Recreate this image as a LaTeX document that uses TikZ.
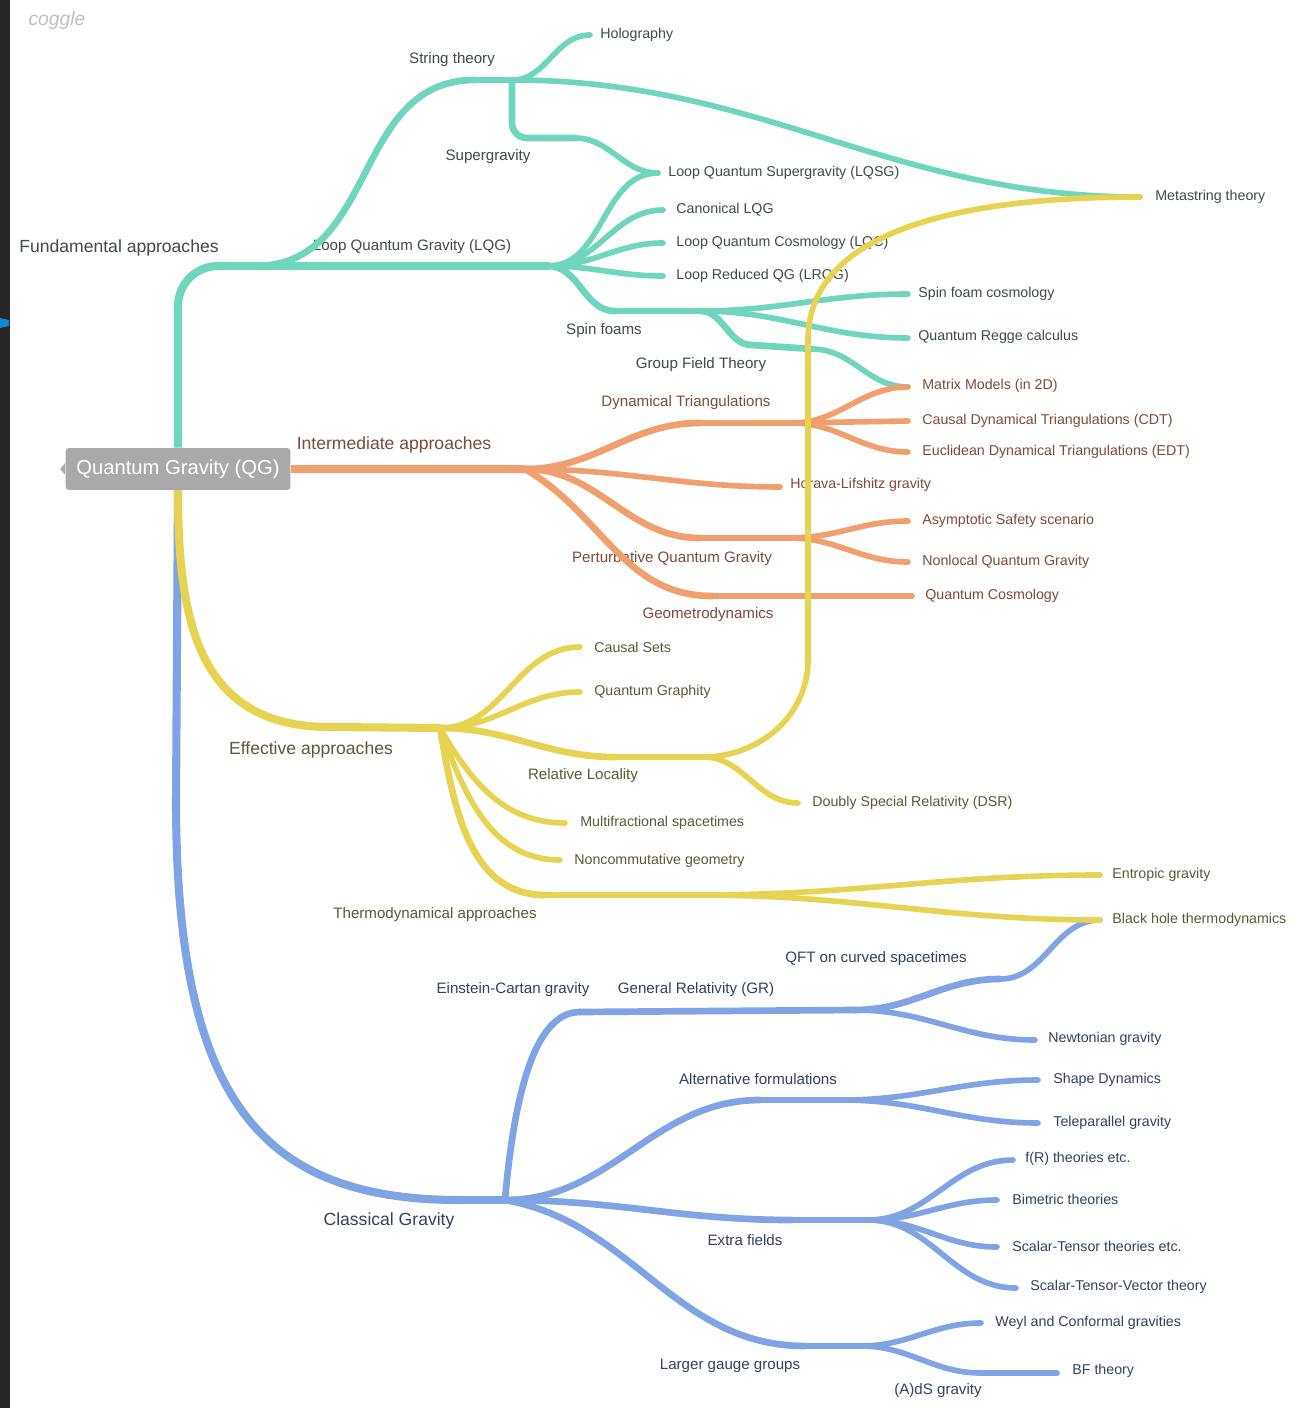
\documentclass[tikz,border=0pt]{standalone}
\usepackage{fontspec}
\setmainfont{Liberation Sans}
\usetikzlibrary{positioning}

\definecolor{fundcol}{HTML}{6FD5BE}
\definecolor{intercol}{HTML}{F0A06E}
\definecolor{effcol}{HTML}{E6D352}
\definecolor{classcol}{HTML}{7FA3E3}
\definecolor{fundtxt}{HTML}{3E4B48}
\definecolor{intertxt}{HTML}{7E4A3C}
\definecolor{efftxt}{HTML}{5C5838}
\definecolor{classtxt}{HTML}{33405E}
\definecolor{rootcol}{HTML}{A9A9A9}

\tikzset{
  leaflbl/.style={anchor=west,inner sep=0pt,font=\fontsize{8.1}{9}\selectfont},
  sublbl/.style={inner sep=0pt,font=\fontsize{8.6}{10}\selectfont},
  toplbl/.style={inner sep=0pt,font=\fontsize{10}{12}\selectfont},
  trunk/.style={line width=4.6pt},
}

\begin{document}
\begin{tikzpicture}[x=0.02cm,y=-0.02cm]

    \useasboundingbox (0,0) rectangle (1289,1408);
    \fill[white] (0,0) rectangle (1289,1408);
    \fill[black!85] (0,0) rectangle (10,1408); % screen edge
    \fill[cyan!70!blue] (0,318) -- (9,320) -- (9,326) -- (0,328) -- cycle;
    \node[text=black!25, font=\itshape\fontsize{11}{12}\selectfont] (logo) at (57,21) {coggle};

    % Root %
    \node[fill=rootcol, rounded corners=2pt, minimum width=4.5cm, minimum height=0.84cm,
          text=white, font=\fontsize{11.5}{13}\selectfont] (qg) at (178,469) {Quantum Gravity (QG)};
    \fill[rootcol] ([yshift=0.12cm]qg.west) -- ++(-0.1cm,-0.12cm) -- ++(0.1cm,-0.12cm) -- cycle;

    % Fundamental %
    \coordinate (fa) at (225,266);
    \coordinate (lqg) at (548,266);
    \coordinate (st-s) at (255,266);
    \coordinate (st-a) at (475,80);
    \coordinate (st) at (512,80);
    \coordinate (holo) at (590,35);
    \coordinate (sg) at (575,138);
    \coordinate (lqsg) at (658,173);
    \coordinate (can) at (663,210);
    \coordinate (lqc) at (663,243);
    \coordinate (lrqg) at (663,276);
    \coordinate (sf-i) at (615,311);
    \coordinate (sf) at (700,311);
    \coordinate (sfc) at (908,294);
    \coordinate (qrc) at (908,338);
    \coordinate (gft-i) at (752,345);
    \coordinate (gft) at (812,349);
    \coordinate (mm) at (908,387);
    \coordinate (ms) at (1140,197);

    % Intermediate %
    \coordinate (ia) at (525,469);
    \coordinate (dt-i) at (700,423);
    \coordinate (dt) at (792,423);
    \coordinate (cdt) at (908,421);
    \coordinate (edt) at (908,452);
    \coordinate (hl) at (780,487);
    \coordinate (pqg-i) at (700,538);
    \coordinate (pqg) at (790,538);
    \coordinate (as) at (908,521);
    \coordinate (nqg) at (908,562);
    \coordinate (gd-i) at (712,596);
    \coordinate (gd) at (785,596);
    \coordinate (qc) at (912,596);

    % Effective %
    \coordinate (ea-i) at (330,727);
    \coordinate (ea) at (440,728);
    \coordinate (cs) at (580,647);
    \coordinate (qgr) at (580,692);
    \coordinate (rl-i) at (615,757);
    \coordinate (rl) at (703,757);
    \coordinate (ms-b) at (808,660);
    \coordinate (ms-t) at (808,340);
    \coordinate (dsr) at (798,803);
    \coordinate (mfs) at (565,823);
    \coordinate (ncg) at (560,860);
    \coordinate (ta-i) at (545,895);
    \coordinate (ta) at (700,895);
    \coordinate (eg) at (1100,875);
    \coordinate (bht) at (1100,920);

    % Classical %
    \coordinate (cg-v) at (176,800);
    \coordinate (cg-i) at (460,1200);
    \coordinate (cg) at (505,1200);
    \coordinate (ecg-i) at (580,1012);
    \coordinate (gr) at (855,1010);
    \coordinate (qft) at (1000,979);
    \coordinate (ng) at (1035,1040);
    \coordinate (af-i) at (760,1100);
    \coordinate (af) at (843,1100);
    \coordinate (sd) at (1038,1080);
    \coordinate (tg) at (1038,1123);
    \coordinate (ef-i) at (792,1220);
    \coordinate (ef) at (868,1220);
    \coordinate (fr) at (1013,1160);
    \coordinate (bm) at (997,1200);
    \coordinate (stt) at (997,1247);
    \coordinate (stv) at (1016,1288);
    \coordinate (lgg-i) at (805,1346);
    \coordinate (lgg) at (861,1346);
    \coordinate (wcg) at (981,1323);
    \coordinate (ads) at (981,1373);
    \coordinate (bf) at (1057,1373);

    \begin{scope}[every node/.style={text=classtxt}, every edge/.style={draw=classcol,line width=3.8pt,line cap=round}]
        \node[toplbl] (cg-l) at (389,1221) {Classical Gravity};
        \node[sublbl] (ecg-l) at (513,990) {Einstein-Cartan gravity};
        \node[sublbl] (gr-l) at (696,990) {General Relativity (GR)};
        \node[sublbl] (qft-l) at (876,959) {QFT on curved spacetimes};
        \node[leaflbl] (ng-l) at (1048,1039) {Newtonian gravity};
        \node[sublbl] (af-l) at (758,1079) {Alternative formulations};
        \node[leaflbl] (sd-l) at (1053,1080) {Shape Dynamics};
        \node[leaflbl] (tg-l) at (1053,1123) {Teleparallel gravity};
        \node[sublbl] (ef-l) at (745,1240) {Extra fields};
        \node[leaflbl] (fr-l) at (1025,1159) {f(R) theories etc.};
        \node[leaflbl] (bm-l) at (1012,1199) {Bimetric theories};
        \node[leaflbl] (stt-l) at (1012,1246) {Scalar-Tensor theories etc.};
        \node[leaflbl] (stv-l) at (1030,1287) {Scalar-Tensor-Vector theory};
        \node[sublbl] (lgg-l) at (730,1366) {Larger gauge groups};
        \node[leaflbl] (wcg-l) at (995,1323) {Weyl and Conformal gravities};
        \node[sublbl] (ads-l) at (938,1391) {(A)dS gravity};
        \node[leaflbl] (bf-l) at (1072,1371) {BF theory};

        \path (qg.south) edge[trunk,line cap=butt] (cg-v);
        \path (cg-v) edge[trunk,out=270,in=180,out looseness=1.55,in looseness=1.05] (cg-i);
        \path (cg-i) edge[trunk] (cg);
        \path (cg) edge[out=85,in=180,out looseness=1.6,in looseness=0.5] (ecg-i);
        \path (ecg-i) edge (gr);
        \path (gr) edge[out=0,in=180] (qft);
        \path (qft) edge[out=0,in=180,line width=3.2pt] (bht);
        \path (gr) edge[out=0,in=180,line width=3.2pt] (ng);
        \path (cg) edge[out=0,in=180] (af-i);
        \path (af-i) edge (af);
        \path (af) edge[out=0,in=180,line width=3.2pt] (sd);
        \path (af) edge[out=0,in=180,line width=3.2pt] (tg);
        \path (cg) edge[out=0,in=180] (ef-i);
        \path (ef-i) edge (ef);
        \path (ef) edge[out=0,in=180,line width=3.2pt] (fr);
        \path (ef) edge[out=0,in=180,line width=3.2pt] (bm);
        \path (ef) edge[out=0,in=180,line width=3.2pt] (stt);
        \path (ef) edge[out=0,in=180,line width=3.2pt] (stv);
        \path (cg) edge[out=-10,in=180] (lgg-i);
        \path (lgg-i) edge (lgg);
        \path (lgg) edge[out=0,in=180,line width=3.2pt] (wcg);
        \path (lgg) edge[out=0,in=180,line width=3.2pt] (ads);
        \path (ads) edge[line width=3.2pt] (bf);
    \end{scope}

    \begin{scope}[every node/.style={text=fundtxt}, every edge/.style={draw=fundcol,line width=3.8pt,line cap=round}]
        \node[toplbl] (fa-l) at (119,248) {Fundamental approaches};
        \node[sublbl] (lqg-l) at (412,247) {Loop Quantum Gravity (LQG)};
        \node[sublbl] (st-l) at (452,60) {String theory};
        \node[leaflbl] (holo-l) at (600,35) {Holography};
        \node[sublbl] (sg-l) at (488,157) {Supergravity};
        \node[leaflbl] (lqsg-l) at (668,173) {Loop Quantum Supergravity (LQSG)};
        \node[leaflbl] (can-l) at (676,210) {Canonical LQG};
        \node[leaflbl] (lqc-l) at (676,243) {Loop Quantum Cosmology (LQC)};
        \node[leaflbl] (lrqg-l) at (676,276) {Loop Reduced QG (LRQG)};
        \node[sublbl] (sf-l) at (604,331) {Spin foams};
        \node[leaflbl] (sfc-l) at (918,294) {Spin foam cosmology};
        \node[leaflbl] (qrc-l) at (918,337) {Quantum Regge calculus};
        \node[sublbl] (gft-l) at (701,365) {Group Field Theory};
        \node[leaflbl] (ms-l) at (1155,197) {Metastring theory};

        \draw[draw=fundcol, trunk, line cap=butt, rounded corners=0.8cm] (qg.north) |- (fa);
        \path (fa) edge[trunk] (lqg);
        \path (st-s) edge[out=0,in=180,looseness=1.1] (st-a);
        \path (st-a) edge (st);
        \path (st) edge[out=0,in=180,line width=3.2pt] (holo);
        \draw[draw=fundcol, line width=3.8pt, line cap=round, rounded corners=0.3cm] (st) |- (sg);
        \path (sg) edge[out=0,in=180,line width=3.2pt] (lqsg);
        \path (lqg) edge[out=0,in=180,line width=3.2pt] (lqsg);
        \path (lqg) edge[out=0,in=180,line width=3.2pt] (can);
        \path (lqg) edge[out=0,in=180,line width=3.2pt] (lqc);
        \path (lqg) edge[out=0,in=180,line width=3.2pt] (lrqg);
        \path (lqg) edge[out=0,in=180] (sf-i);
        \path (sf-i) edge (sf);
        \path (sf) edge[out=0,in=180,line width=3.2pt] (sfc);
        \path (sf) edge[out=0,in=180,line width=3.2pt] (qrc);
        \path (sf) edge[out=0,in=180] (gft-i);
        \path (gft-i) edge (gft);
        \path (gft) edge[out=0,in=180,line width=3.2pt] (mm);
        \path (st) edge[out=0,in=180,line width=3.2pt] (ms);
    \end{scope}

    \begin{scope}[every node/.style={text=intertxt}, every edge/.style={draw=intercol,line width=3.8pt,line cap=round}]
        \node[toplbl] (ia-l) at (394,445) {Intermediate approaches};
        \node[sublbl] (dt-l) at (686,403) {Dynamical Triangulations};
        \node[leaflbl] (mm-l) at (922,386) {Matrix Models (in 2D)};
        \node[leaflbl] (cdt-l) at (922,421) {Causal Dynamical Triangulations (CDT)};
        \node[leaflbl] (edt-l) at (922,452) {Euclidean Dynamical Triangulations (EDT)};
        \node[leaflbl] (hl-l) at (790,485) {Horava-Lifshitz gravity};
        \node[sublbl] (pqg-l) at (672,559) {Perturbative Quantum Gravity};
        \node[leaflbl] (as-l) at (922,521) {Asymptotic Safety scenario};
        \node[leaflbl] (nqg-l) at (922,562) {Nonlocal Quantum Gravity};
        \node[sublbl] (gd-l) at (708,615) {Geometrodynamics};
        \node[leaflbl] (qc-l) at (925,596) {Quantum Cosmology};

        \path (qg.east) edge[trunk,line cap=butt] (ia);
        \path (ia) edge[out=0,in=180] (dt-i);
        \path (dt-i) edge (dt);
        \path (dt) edge[out=0,in=180,line width=3.2pt] (mm);
        \path (dt) edge[line width=3.2pt] (cdt);
        \path (dt) edge[out=0,in=180,line width=3.2pt] (edt);
        \path (ia) edge[out=0,in=180,line width=3.2pt] (hl);
        \path (ia) edge[out=0,in=180] (pqg-i);
        \path (pqg-i) edge (pqg);
        \path (pqg) edge[out=0,in=180,line width=3.2pt] (as);
        \path (pqg) edge[out=0,in=180,line width=3.2pt] (nqg);
        \path (ia) edge[out=-30,in=180] (gd-i);
        \path (gd-i) edge (gd);
        \path (gd) edge[line width=3.2pt] (qc);
    \end{scope}

    \begin{scope}[every node/.style={text=efftxt}, every edge/.style={draw=effcol,line width=3.8pt,line cap=round}]
        \node[toplbl] (ea-l) at (311,750) {Effective approaches};
        \node[leaflbl] (cs-l) at (594,647) {Causal Sets};
        \node[leaflbl] (qgr-l) at (594,692) {Quantum Graphity};
        \node[sublbl] (rl-l) at (583,776) {Relative Locality};
        \node[leaflbl] (dsr-l) at (812,803) {Doubly Special Relativity (DSR)};
        \node[leaflbl] (mfs-l) at (580,823) {Multifractional spacetimes};
        \node[leaflbl] (ncg-l) at (574,861) {Noncommutative geometry};
        \node[sublbl] (ta-l) at (435,915) {Thermodynamical approaches};
        \node[leaflbl] (eg-l) at (1112,875) {Entropic gravity};
        \node[leaflbl] (bht-l) at (1112,920) {Black hole thermodynamics};

        \path (qg.south) edge[trunk,line cap=butt,out=270,in=180,looseness=1.2] (ea-i);
        \path (ea-i) edge[trunk] (ea);
        \path (ea) edge[out=0,in=180,line width=3.2pt] (cs);
        \path (ea) edge[out=0,in=180,line width=3.2pt] (qgr);
        \path (ea) edge[out=0,in=180] (rl-i);
        \path (rl-i) edge (rl);
        \path (rl) edge[out=0,in=270,line width=3.2pt] (ms-b);
        \path (ms-b) edge[line width=3.2pt] (ms-t);
        \path (ms-t) edge[out=90,in=180,looseness=0.9,line width=3.2pt] (ms);
        \path (rl) edge[out=0,in=180,line width=3.2pt] (dsr);
        \path (ea) edge[out=-60,in=180,line width=3.2pt] (mfs);
        \path (ea) edge[out=-70,in=180,line width=3.2pt] (ncg);
        \path (ea) edge[out=-80,in=180] (ta-i);
        \path (ta-i) edge (ta);
        \path (ta) edge[out=0,in=180,line width=3.2pt] (eg);
        \path (ta) edge[out=0,in=180,line width=3.2pt] (bht);
    \end{scope}

\end{tikzpicture}
\end{document}
